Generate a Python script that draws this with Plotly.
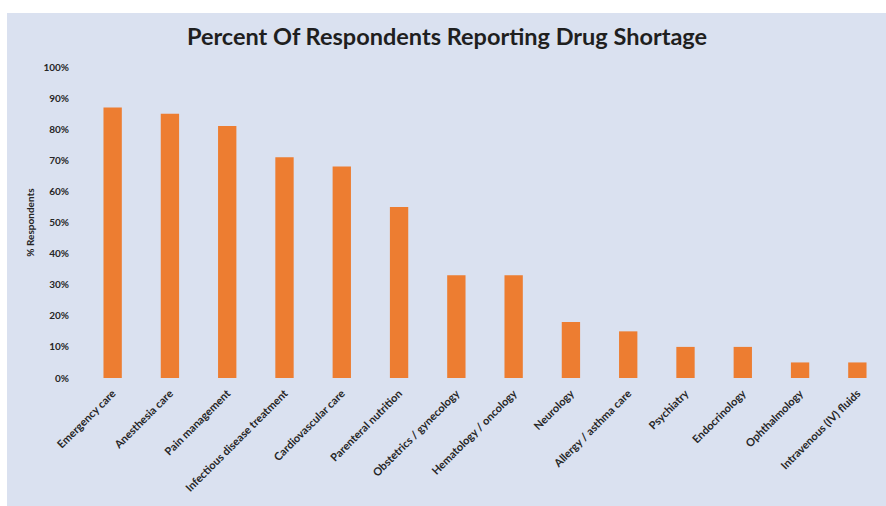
import plotly.graph_objects as go

categories = [
    "Emergency care", "Anesthesia care", "Pain management",
    "Infectious disease treatment", "Cardiovascular care", "Parenteral nutrition",
    "Obstetrics / gynecology", "Hematology / oncology", "Neurology",
    "Allergy / asthma care", "Psychiatry", "Endocrinology",
    "Ophthalmology", "Intravenous (IV) fluids",
]
percent = [0.87, 0.85, 0.81, 0.71, 0.68, 0.55, 0.33, 0.33, 0.18, 0.15, 0.10, 0.10, 0.05, 0.05]
y_ticks = [0, 0.1, 0.2, 0.3, 0.4, 0.5, 0.6, 0.7, 0.8, 0.9, 1.0]

W, H = 886, 506
L, R, T, B = 84, 0, 67, 128
pw, ph = W - L - R, H - T - B

fig = go.Figure(go.Bar(
    x=categories, y=percent,
    marker=dict(color="#ed7d31", line=dict(width=0)),
    width=0.32,
))

bg = "#dae1f0"
fig.add_shape(type="rect", xref="paper", yref="paper", layer="below",
              x0=(7 - L) / pw, x1=1.01, y0=-(B + 5) / ph, y1=1 + (T - 13) / ph,
              fillcolor=bg, line=dict(width=0))

fig.update_layout(
    width=W, height=H,
    margin=dict(l=L, r=R, t=T, b=B),
    paper_bgcolor="white", plot_bgcolor=bg,
    showlegend=False,
    title=dict(text="<b>Percent Of Respondents Reporting Drug Shortage</b>",
               x=447 / W, xanchor="center", y=1 - 37 / H, yanchor="middle",
               font=dict(family="Lato", size=23.5, color="#1f1f1f")),
    font=dict(family="Lato", color="#262626"),
)
fig.update_yaxes(range=[0, 1.0], tickvals=y_ticks, tickformat=".0%",
                 showgrid=False, zeroline=False, showline=False,
                 tickfont=dict(size=10, weight="bold", color="#262626"),
                 ticks="", ticklabelstandoff=14,
                 title=dict(text="<b>% Respondents</b>", font=dict(size=10, color="#262626"), standoff=6))
fig.update_xaxes(tickangle=-45, showgrid=False, showline=False, ticks="",
                 ticklabelstandoff=6,
                 tickfont=dict(size=11, weight="bold", color="#262626"))

fig.write_html("out.html", config={"displayModeBar": False},
               post_script="document.body.style.margin='0';")
